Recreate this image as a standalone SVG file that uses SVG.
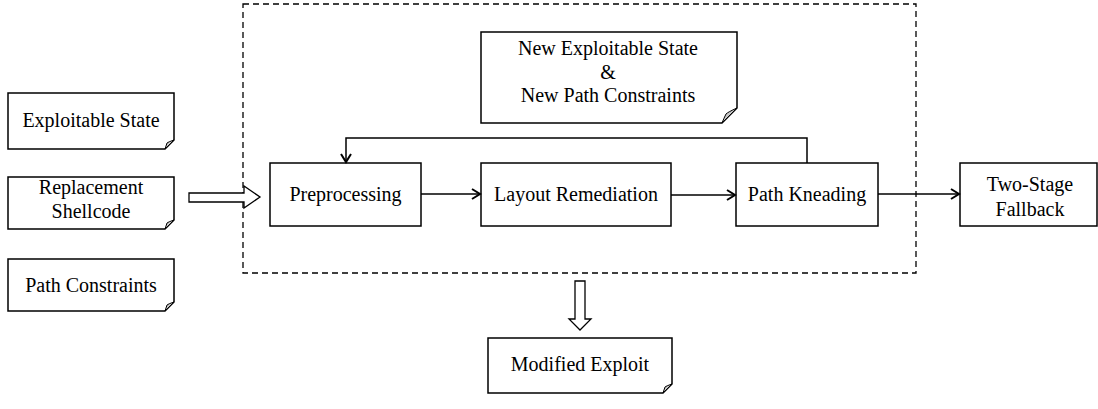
<svg xmlns="http://www.w3.org/2000/svg" width="1098" height="409" viewBox="0 0 1098 409">
<style>
.box{fill:#fff;stroke:#000;stroke-width:1.5}
.fold{fill:#c8c8c8;stroke:#000;stroke-width:1}
.t{font-family:"Liberation Serif","Times New Roman",serif;font-size:20px;fill:#000;text-anchor:middle}
.ln{fill:none;stroke:#000;stroke-width:1.5}
.hollow{fill:#fff;stroke:#000;stroke-width:1.3}
.dash{fill:none;stroke:#000;stroke-width:1.3;stroke-dasharray:6,4}
</style>
<defs>
<marker id="arr" markerWidth="12" markerHeight="12" refX="10" refY="6" orient="auto" markerUnits="userSpaceOnUse">
<path d="M2,1 L10,6 L2,11" fill="none" stroke="#000" stroke-width="2"/>
</marker>
</defs>
<rect width="1098" height="409" fill="#fff"/>
<rect id="frame" class="dash" x="243" y="4" width="673" height="269"/>

<g id="exploitable-state">
<path class="box" d="M8,93 H174 V140 L165,149 H8 Z"/>
<path class="fold" d="M165,149 L174,140 Q168,142 167,143 Q166,146 165,149 Z"/>
<text class="t" x="91" y="127">Exploitable State</text>
</g>
<g id="replacement-shellcode">
<path class="box" d="M8,177 H174 V220 L165,229 H8 Z"/>
<path class="fold" d="M165,229 L174,220 Q168,222 167,223 Q166,226 165,229 Z"/>
<text class="t" x="91" y="194">Replacement</text>
<text class="t" x="91" y="218">Shellcode</text>
</g>
<g id="path-constraints">
<path class="box" d="M8,259 H174 V302 L165,311 H8 Z"/>
<path class="fold" d="M165,311 L174,302 Q168,304 167,305 Q166,308 165,311 Z"/>
<text class="t" x="91" y="292">Path Constraints</text>
</g>
<g id="new-state">
<path class="box" d="M481,32 H737 V108 L722,123 H481 Z"/>
<path class="fold" d="M722,123 L737,108 Q728,112 726,114 Q724,118 722,123 Z"/>
<text class="t" x="608" y="55">New Exploitable State</text>
<text class="t" x="608" y="79">&amp;</text>
<text class="t" x="608" y="102">New Path Constraints</text>
</g>
<g id="preprocessing">
<rect class="box" x="270" y="163" width="151" height="63"/>
<text class="t" x="345.5" y="201">Preprocessing</text>
</g>
<g id="layout-remediation">
<rect class="box" x="481" y="163" width="190" height="63"/>
<text class="t" x="576" y="201">Layout Remediation</text>
</g>
<g id="path-kneading">
<rect class="box" x="736" y="163" width="142" height="63"/>
<text class="t" x="807" y="201">Path Kneading</text>
</g>
<g id="two-stage">
<rect class="box" x="960" y="163" width="137" height="63"/>
<text class="t" x="1030" y="191">Two-Stage</text>
<text class="t" x="1030" y="216">Fallback</text>
</g>
<g id="modified-exploit">
<path class="box" d="M488,338 H672 V384 L663,393 H488 Z"/>
<path class="fold" d="M663,393 L672,384 Q666,386 665,387 Q664,390 663,393 Z"/>
<text class="t" x="580" y="371">Modified Exploit</text>
</g>

<g id="connectors">
<path class="hollow" d="M189,193 H244 V186 L260,197 L244,208 V202 H189 Z"/>
<path class="hollow" d="M575,281 H585 V319 H591 L580,330 L569,319 H575 Z"/>
<line class="ln" x1="421" y1="194" x2="480" y2="194" marker-end="url(#arr)"/>
<line class="ln" x1="671" y1="195" x2="735" y2="195" marker-end="url(#arr)"/>
<line class="ln" x1="878" y1="194" x2="959" y2="194" marker-end="url(#arr)"/>
<path class="ln" d="M807,163 V138 H346 V162" marker-end="url(#arr)"/>
</g>
</svg>
